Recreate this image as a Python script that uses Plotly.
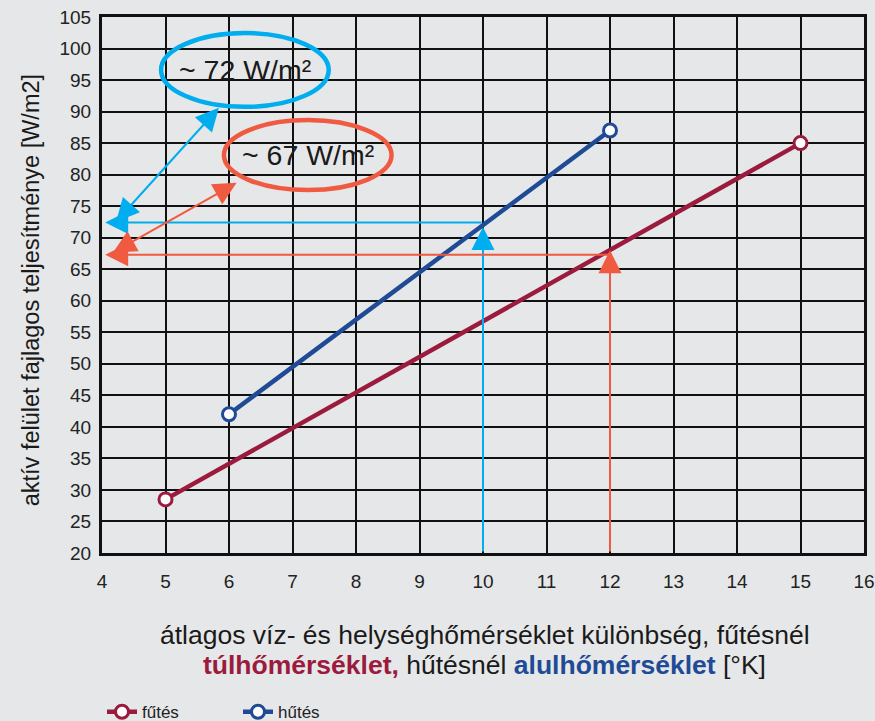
import plotly.graph_objects as go

# Data
heat_x = [5, 15]
heat_y = [28.5, 85]
cool_x = [6, 12]
cool_y = [42, 87]
series_names = ["fűtés", "hűtés"]

# reading examples
cool_read_x = 10
cool_read_y = 72
heat_read_x = 12
heat_read_y = 67
label_cool = "~ 72 W/m²"
label_heat = "~ 67 W/m²"

x_ticks = list(range(4, 17))
y_ticks = list(range(20, 106, 5))

RED = "#9b1b3e"
BLUE = "#1f4a96"
CYAN = "#00adee"
ORANGE = "#f05a41"
BG = "#e6e7e8"
FONT = "Liberation Sans"
TXT = "#1a1a1a"

fig = go.Figure()
fig.add_trace(go.Scatter(x=heat_x, y=heat_y, name=series_names[0], mode="lines+markers",
                         line=dict(color=RED, width=4.5),
                         marker=dict(symbol="circle", size=13, color="white",
                                     line=dict(color=RED, width=3))))
fig.add_trace(go.Scatter(x=cool_x, y=cool_y, name=series_names[1], mode="lines+markers",
                         line=dict(color=BLUE, width=4.5),
                         marker=dict(symbol="circle", size=13, color="white",
                                     line=dict(color=BLUE, width=3))))

x_min, x_max = x_ticks[0], x_ticks[-1]
y_min, y_max = y_ticks[0], y_ticks[-1]
edge_x = x_min + 0.05

def arrow(x, y, ax, ay, color, both=False):
    return dict(x=x, y=y, ax=ax, ay=ay, xref="x", yref="y", axref="x", ayref="y",
                text="", showarrow=True, arrowhead=2, arrowsize=2.3, arrowwidth=2,
                arrowcolor=color, standoff=0, startstandoff=0,
                startarrowhead=2, startarrowsize=2.3,
                arrowside="end+start" if both else "end")

annotations = [
    arrow(cool_read_x, cool_read_y - 0.3, cool_read_x, y_min, CYAN),
    arrow(edge_x, cool_read_y + 0.4, cool_read_x, cool_read_y + 0.4, CYAN),
    arrow(5.84, 90.6, 4.2, 72.3, CYAN, both=True),
    arrow(heat_read_x, heat_read_y + 1.0, heat_read_x, y_min, ORANGE),
    arrow(edge_x, heat_read_y + 0.3, heat_read_x, heat_read_y + 0.3, ORANGE),
    arrow(6.12, 78.7, 4.15, 67.5, ORANGE, both=True),
    dict(x=6.25, y=96.6, xref="x", yref="y", text=label_cool, showarrow=False,
         font=dict(size=28.5, color=TXT, family=FONT)),
    dict(x=7.24, y=83.1, xref="x", yref="y", text=label_heat, showarrow=False,
         font=dict(size=28.5, color=TXT, family=FONT)),
    dict(x=-0.113, y=0.49, xref="paper", yref="paper", textangle=-90,
         text="aktív felület fajlagos teljesítménye [W/m2]", showarrow=False,
         font=dict(size=23.5, color=TXT, family=FONT)),
    dict(x=0.502, y=-0.153, xref="paper", yref="paper", showarrow=False, yanchor="middle",
         text="átlagos víz- és helységhőmérséklet különbség, fűtésnél",
         font=dict(size=26.5, color=TXT, family=FONT)),
    dict(x=0.502, y=-0.209, xref="paper", yref="paper", showarrow=False, yanchor="middle",
         text=f"<b><span style='color:{RED}'>túlhőmérséklet,</span></b> hűtésnél "
              f"<b><span style='color:{BLUE}'>alulhőmérséklet</span></b> [°K]",
         font=dict(size=26.5, color=TXT, family=FONT)),
]

shapes = [
    dict(type="circle", xref="x", yref="y", x0=6.25 - 1.32, x1=6.25 + 1.32,
         y0=96.6 - 5.85, y1=96.6 + 5.85, line=dict(color=CYAN, width=4.5)),
    dict(type="circle", xref="x", yref="y", x0=7.24 - 1.32, x1=7.24 + 1.32,
         y0=83.1 - 5.55, y1=83.1 + 5.55, line=dict(color=ORANGE, width=4.5)),
]

fig.update_layout(
    width=875, height=721,
    paper_bgcolor=BG, plot_bgcolor=BG,
    margin=dict(l=102, r=11, t=17, b=168, autoexpand=False),
    font=dict(family=FONT, size=19, color="#222"),
    annotations=annotations, shapes=shapes,
    showlegend=True,
    legend=dict(orientation="h", x=0.0, y=-0.297, xanchor="left", yanchor="middle",
                entrywidth=91, entrywidthmode="pixels",
                font=dict(size=17, color="#222"), bgcolor="rgba(0,0,0,0)"),
)
fig.update_xaxes(range=[x_min, x_max], tickvals=x_ticks, showgrid=True, gridcolor="#111",
                 gridwidth=1.5, showline=True, linecolor="#111", linewidth=3, mirror=True,
                 zeroline=False, ticks="", ticklabelstandoff=9, tickfont=dict(size=19))
fig.update_yaxes(range=[y_min, y_max], tickvals=y_ticks, showgrid=True, gridcolor="#111",
                 gridwidth=1.5, showline=True, linecolor="#111", linewidth=3, mirror=True,
                 zeroline=False, ticks="", ticklabelstandoff=4, tickfont=dict(size=19))

fig.write_html("out.html", config={"displayModeBar": False},
               post_script="document.body.style.margin='0px';document.body.style.overflow='hidden';")
